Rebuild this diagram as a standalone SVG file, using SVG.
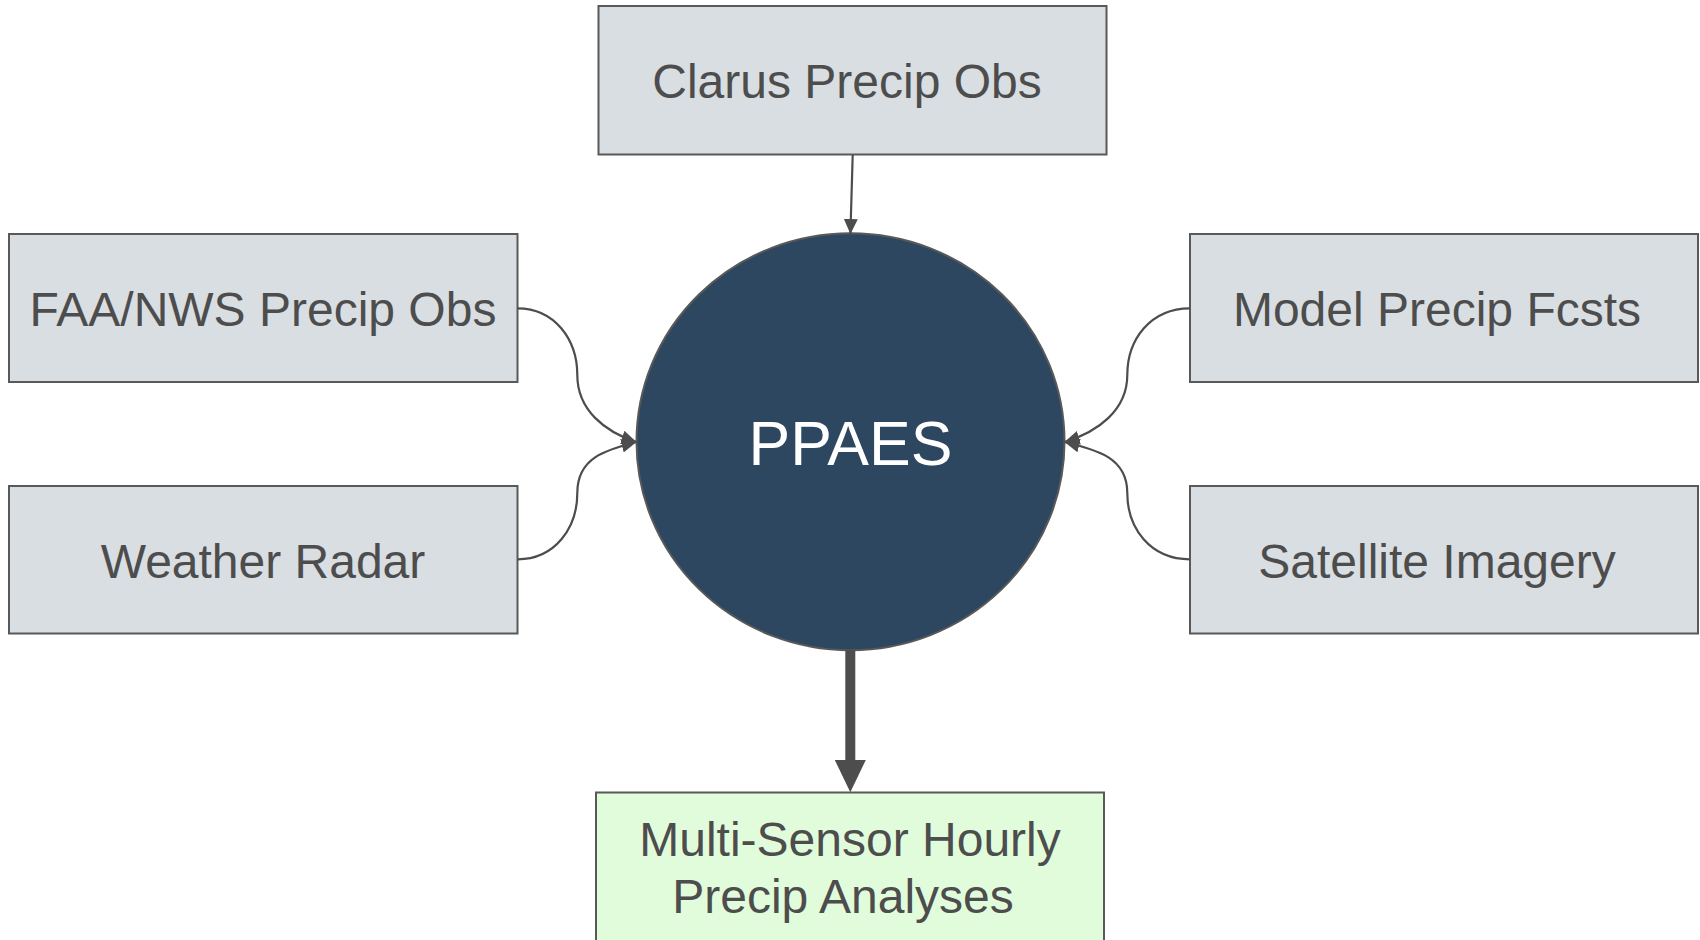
<svg xmlns="http://www.w3.org/2000/svg" width="1700" height="940" viewBox="0 0 1700 940">
<style>
.box{fill:#d9dee2;stroke:#595959;stroke-width:2}
.out{fill:#e1fcdb;stroke:#595959;stroke-width:2}
.lbl{font-family:"Liberation Sans",Arial,sans-serif;font-size:48px;fill:#4d4d4d;text-anchor:middle}
.ctr{font-family:"Liberation Sans",Arial,sans-serif;font-size:62.5px;fill:#ffffff;text-anchor:middle}
.con{fill:none;stroke:#4d4d4d;stroke-width:2.2}
</style>
<defs>
<marker id="ah" viewBox="0 0 15 14" refX="15" refY="7" markerWidth="15" markerHeight="14" markerUnits="userSpaceOnUse" orient="auto">
<path d="M0,0 L15,7 L0,14 Z" fill="#4d4d4d"/>
</marker>
</defs>
<rect width="1700" height="940" fill="#ffffff"/>
<g id="clarus">
<rect class="box" x="598.5" y="6" width="508" height="148.5"/>
<text class="lbl" x="847" y="98">Clarus Precip Obs</text>
</g>
<g id="faa">
<rect class="box" x="9" y="234" width="508.5" height="148"/>
<text class="lbl" x="263" y="326">FAA/NWS Precip Obs</text>
</g>
<g id="radar">
<rect class="box" x="9" y="486" width="508.5" height="147.5"/>
<text class="lbl" x="263" y="578">Weather Radar</text>
</g>
<g id="model">
<rect class="box" x="1190" y="234" width="508" height="148"/>
<text class="lbl" x="1437" y="326">Model Precip Fcsts</text>
</g>
<g id="satellite">
<rect class="box" x="1190" y="486" width="508" height="147.5"/>
<text class="lbl" x="1437" y="578">Satellite Imagery</text>
</g>
<g id="ppaes">
<ellipse cx="850.5" cy="441.7" rx="214" ry="208.5" fill="#2e4761" stroke="#595959" stroke-width="2"/>
<text class="ctr" x="850.5" y="465">PPAES</text>
</g>
<g id="output">
<rect class="out" x="596" y="792.5" width="508" height="160"/>
<text class="lbl" x="850" y="856">Multi-Sensor Hourly</text>
<text class="lbl" x="843" y="913">Precip Analyses</text>
</g>
<g id="connectors">
<path class="con" d="M852.7,155 L850.4,234" marker-end="url(#ah)"/>
<path class="con" d="M517.5,308.3 C555,308.3 577.3,340 577.3,375 C577.3,410 605,432 636.5,442" marker-end="url(#ah)"/>
<path class="con" d="M517.5,559.3 C555,559.3 577.3,528 577.3,493 C577.3,458 605,450 636.5,442" marker-end="url(#ah)"/>
<path class="con" d="M1190,308.3 C1150,308.3 1127.3,340 1127.3,375 C1127.3,410 1098,432 1064.5,442" marker-end="url(#ah)"/>
<path class="con" d="M1190,559.3 C1150,559.3 1127.3,528 1127.3,493 C1127.3,458 1098,450 1064.5,442" marker-end="url(#ah)"/>
<path d="M850.3,650 L850.3,761" fill="none" stroke="#4d4d4d" stroke-width="10"/>
<path d="M834.8,760 L865.8,760 L850.3,792.3 Z" fill="#4d4d4d"/>
</g>
</svg>
